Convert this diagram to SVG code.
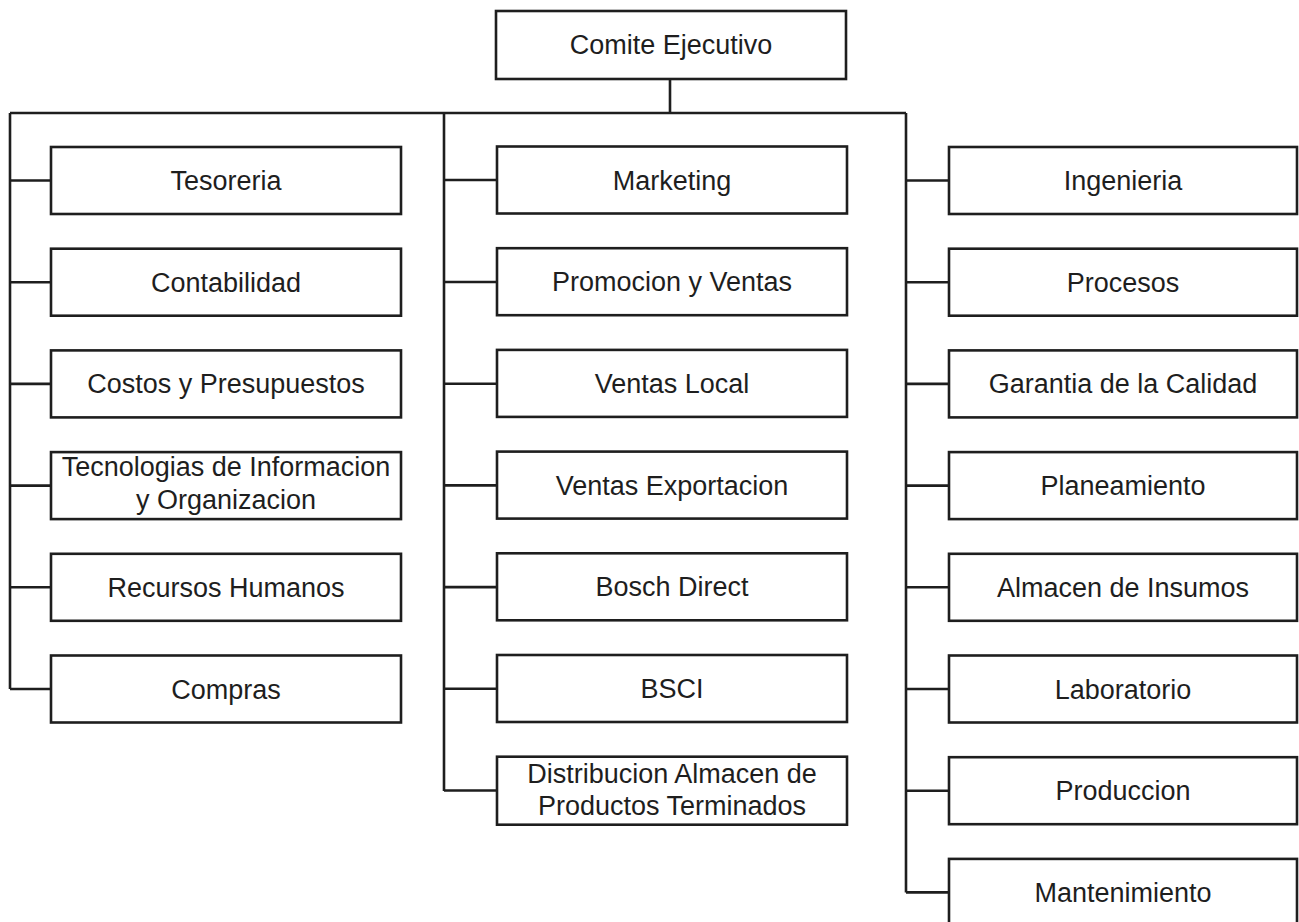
<svg xmlns="http://www.w3.org/2000/svg" width="1299" height="922" viewBox="0 0 1299 922">
<style>
.box{fill:#fff;stroke:#1e1e1e;stroke-width:2.6}
.ln{fill:none;stroke:#1e1e1e;stroke-width:2.6}
text{font-family:"Liberation Sans",Arial,sans-serif;font-size:27px;fill:#1e1e1e;text-anchor:middle}
</style>
<rect width="1299" height="922" fill="#fff"/>
<g id="connectors" class="ln">
<path d="M670 79V113M10 113H906"/>
<path d="M10 113V689M10 180.5H51M10 282.2H51M10 383.9H51M10 485.6H51M10 587.3H51M10 689H51"/>
<path d="M444 113V791M444 180H497M444 282H497M444 383.7H497M444 485.4H497M444 587.1H497M444 688.8H497M444 790.5H497"/>
<path d="M906 113V892.5M906 180.5H949M906 282.2H949M906 383.9H949M906 485.6H949M906 587.3H949M906 689H949M906 790.7H949M906 892.4H949"/>
</g>
<g id="comite"><rect class="box" x="496" y="11" width="350" height="68"/><text x="671" y="54">Comite Ejecutivo</text></g>
<g id="tesoreria"><rect class="box" x="51" y="147" width="350" height="67"/><text x="226" y="190">Tesoreria</text></g>
<g id="contabilidad"><rect class="box" x="51" y="248.7" width="350" height="67"/><text x="226" y="291.7">Contabilidad</text></g>
<g id="costos"><rect class="box" x="51" y="350.4" width="350" height="67"/><text x="226" y="393.4">Costos y Presupuestos</text></g>
<g id="tecnologias"><rect class="box" x="51" y="452.1" width="350" height="67"/><text x="226" y="476">Tecnologias de Informacion</text><text x="226" y="509">y Organizacion</text></g>
<g id="recursos"><rect class="box" x="51" y="553.8" width="350" height="67"/><text x="226" y="596.8">Recursos Humanos</text></g>
<g id="compras"><rect class="box" x="51" y="655.5" width="350" height="67"/><text x="226" y="698.5">Compras</text></g>
<g id="marketing"><rect class="box" x="497" y="146.5" width="350" height="67"/><text x="672" y="189.5">Marketing</text></g>
<g id="promocion"><rect class="box" x="497" y="248.2" width="350" height="67"/><text x="672" y="291.2">Promocion y Ventas</text></g>
<g id="ventas-local"><rect class="box" x="497" y="349.9" width="350" height="67"/><text x="672" y="392.9">Ventas Local</text></g>
<g id="ventas-exportacion"><rect class="box" x="497" y="451.6" width="350" height="67"/><text x="672" y="494.6">Ventas Exportacion</text></g>
<g id="bosch-direct"><rect class="box" x="497" y="553.3" width="350" height="67"/><text x="672" y="596.3">Bosch Direct</text></g>
<g id="bsci"><rect class="box" x="497" y="655" width="350" height="67"/><text x="672" y="698">BSCI</text></g>
<g id="distribucion"><rect class="box" x="497" y="756.7" width="350" height="68"/><text x="672" y="783">Distribucion Almacen de</text><text x="672" y="815">Productos Terminados</text></g>
<g id="ingenieria"><rect class="box" x="949" y="147" width="348" height="67"/><text x="1123" y="190">Ingenieria</text></g>
<g id="procesos"><rect class="box" x="949" y="248.7" width="348" height="67"/><text x="1123" y="291.7">Procesos</text></g>
<g id="garantia"><rect class="box" x="949" y="350.4" width="348" height="67"/><text x="1123" y="393.4">Garantia de la Calidad</text></g>
<g id="planeamiento"><rect class="box" x="949" y="452.1" width="348" height="67"/><text x="1123" y="495.1">Planeamiento</text></g>
<g id="almacen-insumos"><rect class="box" x="949" y="553.8" width="348" height="67"/><text x="1123" y="596.8">Almacen de Insumos</text></g>
<g id="laboratorio"><rect class="box" x="949" y="655.5" width="348" height="67"/><text x="1123" y="698.5">Laboratorio</text></g>
<g id="produccion"><rect class="box" x="949" y="757.2" width="348" height="67"/><text x="1123" y="800.2">Produccion</text></g>
<g id="mantenimiento"><rect class="box" x="949" y="858.9" width="348" height="67"/><text x="1123" y="901.9">Mantenimiento</text></g>
</svg>
